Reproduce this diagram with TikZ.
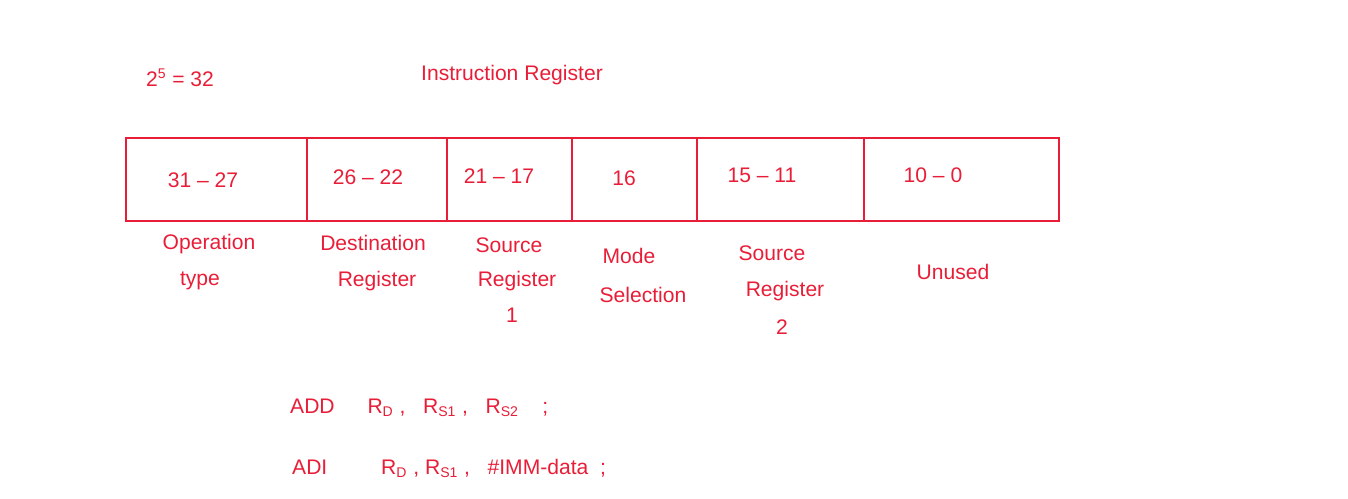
\documentclass[tikz,border=0pt]{standalone}
\usepackage{fontspec}
\setmainfont{Liberation Sans}
\definecolor{inkred}{RGB}{232,30,56}
\tikzset{
  lbl/.style={text=inkred, font=\large},
  frame/.style={draw=inkred, line width=0.6pt}
}
\begin{document}
\begin{tikzpicture}[x=0.02cm, y=-0.02cm]
      \useasboundingbox (0,0) rectangle (1348,498);
      % register
      \draw[frame] (126,138) rectangle (1059,221);
      \foreach \x in {307,447,572,697,864}
        \draw[frame] (\x,138) -- (\x,221);
      \draw[lbl]
        (180,78) node (pow){2\textsuperscript{5} = 32}
        (512,75) node (title){Instruction Register}
        (203,180) node (f0){31 -- 27}
        (368,177) node (f1){26 -- 22}
        (499,176) node (f2){21 -- 17}
        (624,178) node (f3){16}
        (762,175) node (f4){15 -- 11}
        (933,175) node (f5){10 -- 0}
        (209,244) node (op){Operation}
        (200,281) node (opb){type}
        (373,243) node (dst){Destination}
        (377,281) node (dstb){Register}
        (509,245) node (src){Source}
        (517,281) node (srcb){Register}
        (512,315) node (srcc){1}
        (629,256) node (mode){Mode}
        (643,295) node (modeb){Selection}
        (772,253) node (srt){Source}
        (785,291) node (srtb){Register}
        (782,327) node (srtc){2}
        (953,272) node (unused){Unused};
      \draw[lbl]
        (284,408) node[anchor=west] (add){ADD\quad\; R\textsubscript{D} ,\;\; R\textsubscript{S1} ,\;\; R\textsubscript{S2} \;\; ;}
        (286,468) node[anchor=west] (adi){ADI\qquad\; R\textsubscript{D} , R\textsubscript{S1} ,\;\; \#IMM-data \;;};
    \end{tikzpicture}
\end{document}
